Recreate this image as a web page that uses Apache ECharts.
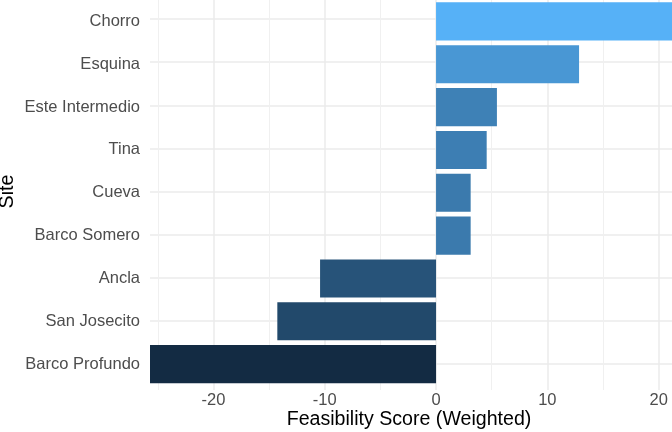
<!DOCTYPE html>
<html>
<head>
<meta charset="utf-8">
<script src="https://cdn.jsdelivr.net/npm/echarts@6/dist/echarts.min.js"></script>
<style>
  html, body { margin: 0; padding: 0; background: #fff; }
  #chart { width: 672px; height: 432px; }
</style>
</head>
<body>
<div id="chart"></div>
<script>
// data
var sites = ['Chorro', 'Esquina', 'Este Intermedio', 'Tina', 'Cueva',
             'Barco Somero', 'Ancla', 'San Josecito', 'Barco Profundo'];
var scores = [21.2, 12.85, 5.47, 4.55, 3.11, 3.11, -10.42, -14.26, -25.7];
var majorTicks = [-20, 20];   // labelled range, step 10
var minorTicks = [-25, 15];   // in-between grid lines, step 10

// panel geometry (pixels)
var panelLeft = 150, panelRight = 672, panelTop = -7, panelBottom = 390;
var firstRow = 19, lastRow = 364;
var xMin = Math.min.apply(null, scores), xMax = Math.max.apply(null, scores);
var k = (panelRight - panelLeft) / (xMax - xMin);
function px(v) { return panelLeft + (v - xMin) * k; }
var band = (lastRow - firstRow) / (sites.length - 1);

var font = "'Liberation Sans', Arial, Helvetica, sans-serif";
var tickColor = '#4D4D4D';

// colour ramp low -> high, interpolated in CIELAB like ggplot
var lowColor = [0x13, 0x2B, 0x43], highColor = [0x56, 0xB1, 0xF7];
function toLab(c) {
    var l = c.map(function(v) { v /= 255; return v > 0.04045 ? Math.pow((v + 0.055) / 1.055, 2.4) : v / 12.92; });
    var X = (l[0] * 0.4124 + l[1] * 0.3576 + l[2] * 0.1805) / 0.95047;
    var Y = (l[0] * 0.2126 + l[1] * 0.7152 + l[2] * 0.0722);
    var Z = (l[0] * 0.0193 + l[1] * 0.1192 + l[2] * 0.9505) / 1.08883;
    var f = function(t) { return t > 0.008856 ? Math.cbrt(t) : 7.787 * t + 16 / 116; };
    return [116 * f(Y) - 16, 500 * (f(X) - f(Y)), 200 * (f(Y) - f(Z))];
}
function fromLab(p) {
    var fy = (p[0] + 16) / 116, fx = fy + p[1] / 500, fz = fy - p[2] / 200;
    var inv = function(t) { return t * t * t > 0.008856 ? t * t * t : (t - 16 / 116) / 7.787; };
    var X = inv(fx) * 0.95047, Y = inv(fy), Z = inv(fz) * 1.08883;
    var r = X * 3.2406 + Y * -1.5372 + Z * -0.4986;
    var g = X * -0.9689 + Y * 1.8758 + Z * 0.0415;
    var b = X * 0.0557 + Y * -0.2040 + Z * 1.0570;
    return [r, g, b].map(function(v) {
        v = v > 0.0031308 ? 1.055 * Math.pow(v, 1 / 2.4) - 0.055 : 12.92 * v;
        return Math.max(0, Math.min(255, Math.round(v * 255)));
    });
}
var lowLab = toLab(lowColor), highLab = toLab(highColor);
function rampColor(v) {
    var t = (v - xMin) / (xMax - xMin);
    var c = fromLab(lowLab.map(function(a, i) { return a + (highLab[i] - a) * t; }));
    return 'rgb(' + c.join(',') + ')';
}

var myChart = echarts.init(document.getElementById('chart'));

var option = {
    animation: false,
    backgroundColor: '#fff',
    grid: [
        // minor vertical grid lines
        { left: px(minorTicks[0]), width: px(minorTicks[1]) - px(minorTicks[0]),
          top: panelTop, height: panelBottom - panelTop },
        // major vertical grid lines + labels
        { left: px(majorTicks[0]), width: px(majorTicks[1]) - px(majorTicks[0]),
          top: panelTop, height: panelBottom - panelTop },
        // horizontal grid lines at row centres
        { left: panelLeft, width: panelRight - panelLeft,
          top: firstRow, height: lastRow - firstRow },
        // bars
        { left: panelLeft, width: panelRight - panelLeft,
          top: firstRow - band / 2, height: band * sites.length }
    ],
    xAxis: [
        { gridIndex: 0, type: 'value', min: minorTicks[0], max: minorTicks[1], interval: 10,
          axisLine: { show: false }, axisTick: { show: false }, axisLabel: { show: false },
          splitLine: { lineStyle: { color: '#F0F0F0', width: 1 } } },
        { gridIndex: 1, type: 'value', min: majorTicks[0], max: majorTicks[1], interval: 10,
          axisLine: { show: false }, axisTick: { show: false },
          axisLabel: { color: tickColor, fontSize: 16.5, fontFamily: font, margin: 2 },
          splitLine: { lineStyle: { color: '#EBEBEB', width: 1.5 } } },
        { gridIndex: 2, type: 'value', min: xMin, max: xMax, show: false },
        { gridIndex: 3, type: 'value', min: xMin, max: xMax, show: false }
    ],
    yAxis: [
        { gridIndex: 0, type: 'value', show: false },
        { gridIndex: 1, type: 'value', show: false },
        { gridIndex: 2, type: 'value', min: 0, max: sites.length - 1, interval: 1,
          axisLine: { show: false }, axisTick: { show: false }, axisLabel: { show: false },
          splitLine: { lineStyle: { color: '#EBEBEB', width: 1.5 } } },
        { gridIndex: 3, type: 'category', data: sites, inverse: true,
          axisLine: { show: false }, axisTick: { show: false }, splitLine: { show: false },
          axisLabel: { color: tickColor, fontSize: 16.5, fontFamily: font, margin: 10 } }
    ],
    series: [{
        type: 'bar',
        xAxisIndex: 3,
        yAxisIndex: 3,
        data: scores,
        barWidth: '89%',
        clip: true,
        itemStyle: {
            color: function(p) { return rampColor(p.value); }
        }
    }],
    graphic: [
        { type: 'text', x: (panelLeft + panelRight) / 2 - 2, y: 420,
          style: { text: 'Feasibility Score (Weighted)', fill: '#000', font: '19.6px ' + font,
                   textAlign: 'center', textVerticalAlign: 'middle' } },
        { type: 'text', x: 8, y: (panelTop + panelBottom) / 2, rotation: Math.PI / 2,
          style: { text: 'Site', fill: '#000', font: '19.6px ' + font,
                   textAlign: 'center', textVerticalAlign: 'middle' } }
    ]
};

myChart.setOption(option);
</script>
</body>
</html>
